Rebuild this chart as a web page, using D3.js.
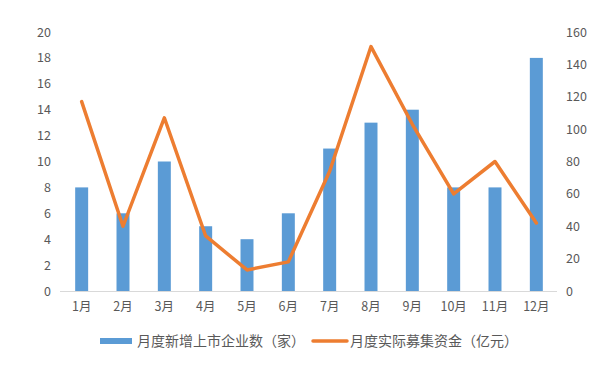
<!DOCTYPE html>
<html>
<head>
<meta charset="utf-8">
<script src="https://cdn.jsdelivr.net/npm/d3@7"></script>
<style>
  body { margin: 0; background: #fff; }
  svg text { font-family: "Noto Sans CJK SC", "DejaVu Sans", sans-serif; fill: #595959; }
</style>
</head>
<body>
<svg id="chart" width="599" height="373"></svg>
<script>
const months = ['1月', '2月', '3月', '4月', '5月', '6月', '7月', '8月', '9月', '10月', '11月', '12月'];
const newListings = [8, 6, 10, 5, 4, 6, 11, 13, 14, 8, 8, 18];
const funds = [117, 40, 107, 34, 13, 18, 74, 151, 103, 60, 80, 42];
const leftTicks = d3.range(0, 21, 2);
const rightTicks = d3.range(0, 161, 20);

const svg = d3.select('#chart');
const margin = { top: 32, right: 42, bottom: 82, left: 61 };
const width = 599, height = 373;
const baseY = height - margin.bottom;

const x = d3.scaleBand()
  .domain(months)
  .range([margin.left, width - margin.right])
  .paddingInner(0.686)
  .paddingOuter(0.343);

const yL = d3.scaleLinear().domain([0, 20]).range([baseY, margin.top]);
const yR = d3.scaleLinear().domain([0, 160]).range([baseY, margin.top]);

// left axis labels
const leftAxis = svg.append('g')
  .attr('transform', `translate(${margin.left - 10},0)`)
  .call(d3.axisLeft(yL).tickValues(leftTicks).tickSize(0).tickPadding(0));
leftAxis.select('.domain').remove();

const rightAxis = svg.append('g')
  .attr('transform', `translate(${width - margin.right + 9},0)`)
  .call(d3.axisRight(yR).tickValues(rightTicks).tickSize(0).tickPadding(0));
rightAxis.select('.domain').remove();

svg.selectAll('.tick text').style('font-size', '12.5px').attr('fill', '#595959');

// bars
svg.append('g')
  .selectAll('rect')
  .data(newListings)
  .join('rect')
  .attr('x', (d, i) => x(months[i]))
  .attr('width', x.bandwidth())
  .attr('y', (d) => yL(d))
  .attr('height', (d) => baseY - yL(d))
  .attr('fill', '#5B9BD5');

// baseline
svg.append('line')
  .attr('x1', margin.left - 1).attr('x2', width - margin.right)
  .attr('y1', baseY + 0.5).attr('y2', baseY + 0.5)
  .attr('stroke', '#d9d9d9');

// month labels
svg.append('g')
  .attr('transform', `translate(0,${baseY})`)
  .call(d3.axisBottom(x).tickSize(0).tickPadding(11))
  .call((g) => g.select('.domain').remove())
  .selectAll('text')
  .style('font-size', '12.5px')
  .attr('fill', '#595959');

// line
const line = d3.line()
  .x((d, i) => x(months[i]) + x.bandwidth() / 2)
  .y((d) => yR(d));

svg.append('path')
  .datum(funds)
  .attr('d', line)
  .attr('fill', 'none')
  .attr('stroke', '#ED7D31')
  .attr('stroke-width', 3.5)
  .attr('stroke-linejoin', 'round')
  .attr('stroke-linecap', 'round');

// legend
const legend = svg.append('g').attr('transform', 'translate(0,341)');
legend.append('rect')
  .attr('x', 100).attr('y', -3).attr('width', 32).attr('height', 6)
  .attr('fill', '#5B9BD5');
legend.append('text')
  .attr('x', 137).attr('y', 0).attr('dy', '0.35em')
  .style('font-size', '14px')
  .text('月度新增上市企业数（家）');
legend.append('line')
  .attr('x1', 313).attr('x2', 347).attr('y1', 0).attr('y2', 0)
  .attr('stroke', '#ED7D31').attr('stroke-width', 3.5).attr('stroke-linecap', 'round');
legend.append('text')
  .attr('x', 350).attr('y', 0).attr('dy', '0.35em')
  .style('font-size', '14px')
  .text('月度实际募集资金（亿元）');
</script>
</body>
</html>
